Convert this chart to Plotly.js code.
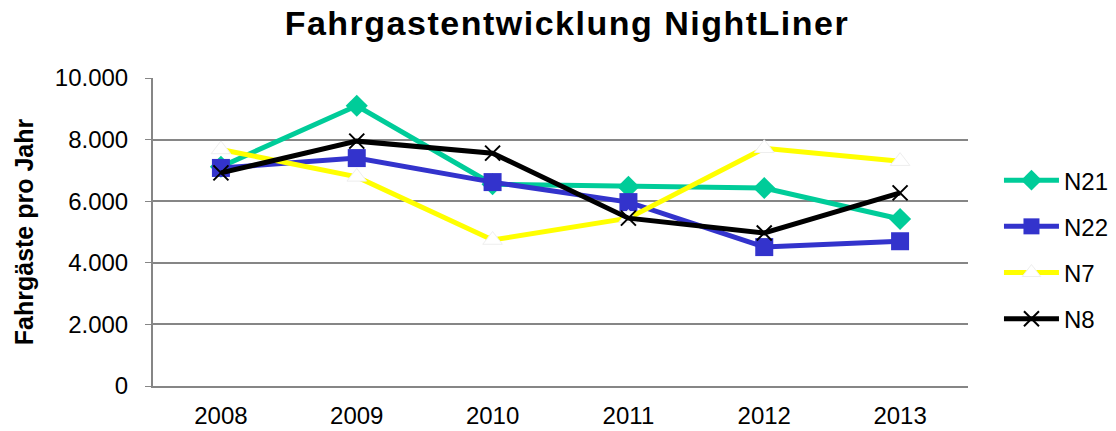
<!DOCTYPE html>
<html>
<head>
<meta charset="utf-8">
<script src="https://cdn.plot.ly/plotly-3.0.1.min.js"></script>
<style>
html,body{margin:0;padding:0;background:#fff;}
#chart{width:1116px;height:431px;}
.gtitle{letter-spacing:1.5px;}
</style>
</head>
<body>
<div id="chart"></div>
<script>
const years = ["2008", "2009", "2010", "2011", "2012", "2013"];
const n21 = [7120, 9100, 6550, 6470, 6430, 5420];
const n22 = [7080, 7400, 6620, 5970, 4510, 4700];
const n7  = [7680, 6790, 4740, 5450, 7720, 7300];
const n8  = [6920, 7950, 7560, 5450, 4970, 6270];
const yTicks = [0, 2000, 4000, 6000, 8000, 10000];
const yTickText = ["0", "2.000", "4.000", "6.000", "8.000", "10.000"];

const FONT = "Liberation Sans, Arial, sans-serif";

const traces = [
  {name: "N21", x: years, y: n21, type: "scatter", mode: "lines+markers", legendgroup: "a",
   line: {color: "#00CC99", width: 5},
   marker: {symbol: "diamond", size: 17, color: "#00CC99"}},
  {name: "N22", x: years, y: n22, type: "scatter", mode: "lines+markers", legendgroup: "b",
   line: {color: "#3333CC", width: 5},
   marker: {symbol: "square", size: 18, color: "#3333CC"}},
  {name: "N7", x: years, y: n7, type: "scatter", mode: "lines+markers", legendgroup: "c",
   line: {color: "#FFFF00", width: 5},
   marker: {symbol: "triangle-up", size: 17, color: "#FFFFFF", line: {color: "#EEEEEE", width: 1}}},
  {name: "N8", x: years, y: n8, type: "scatter", mode: "lines+markers", legendgroup: "d",
   line: {color: "#000000", width: 5},
   marker: {symbol: "x-thin-open", size: 15, color: "#000000", line: {color: "#000000", width: 2}}}
];

const layout = {
  width: 1116, height: 431,
  paper_bgcolor: "#fff", plot_bgcolor: "#fff",
  margin: {l: 153, r: 148, t: 78, b: 45, autoexpand: false},
  font: {family: FONT, color: "#000"},
  title: {text: "<b>Fahrgastentwicklung NightLiner</b>", font: {size: 34, family: FONT, color: "#000"},
          x: 0.508, xanchor: "center", y: 0.946, yanchor: "middle"},
  xaxis: {type: "category", range: [-0.5, 5.5], showgrid: false, zeroline: false,
          showline: true, linecolor: "#868686", linewidth: 2, ticks: "",
          tickfont: {size: 24, family: FONT, color: "#000"}, ticklabelstandoff: 7},
  yaxis: {range: [0, 10000], tickvals: yTicks, ticktext: yTickText,
          showgrid: true, gridcolor: "#868686", gridwidth: 2, zeroline: false,
          showline: true, linecolor: "#868686", linewidth: 2, ticks: "outside", ticklen: 6, tickcolor: "#868686",
          tickfont: {size: 24, family: FONT, color: "#000"}, ticklabelstandoff: 12,
          title: {text: "<b>Fahrgäste pro Jahr</b>", font: {size: 25, family: FONT, color: "#000"}, standoff: 14}},
  legend: {x: 1.038, xanchor: "left", y: 0.443, yanchor: "middle",
           font: {size: 24, family: FONT, color: "#000"},
           traceorder: "grouped", tracegroupgap: 12, itemwidth: 55, bgcolor: "rgba(0,0,0,0)"},
  showlegend: true
};

Plotly.newPlot("chart", traces, layout, {displayModeBar: false, staticPlot: true});
</script>
</body>
</html>
